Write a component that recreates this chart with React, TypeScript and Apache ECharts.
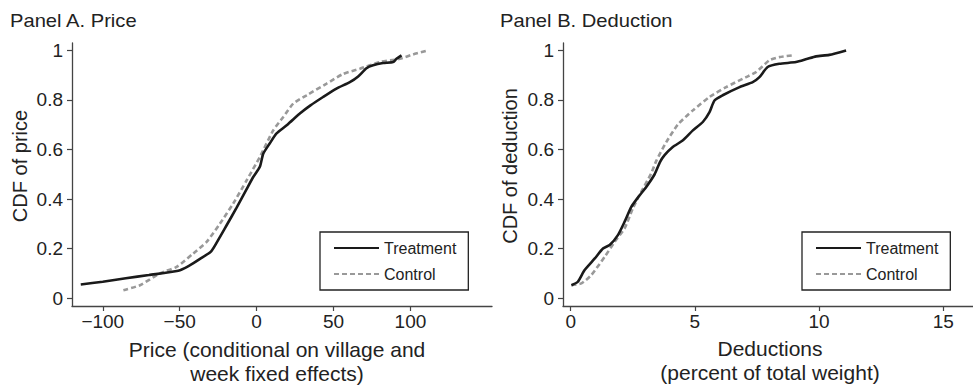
import React, { useEffect, useRef } from "react";
import * as echarts from "echarts";

// Panel A: price (conditional on village and week fixed effects) vs CDF
const priceTreatment: [number, number][] = [
  [-114.3, 0.055], [-100, 0.066], [-85, 0.08], [-70, 0.093], [-50.9, 0.11],
  [-44, 0.13], [-36.8, 0.158], [-29.4, 0.19], [-24, 0.245], [-19.5, 0.294],
  [-13, 0.365], [-6.5, 0.44], [-2.2, 0.489], [2.1, 0.53], [4.3, 0.583],
  [8.6, 0.625], [12.8, 0.664], [20, 0.7], [28.1, 0.745], [35, 0.778],
  [43.2, 0.812], [51.9, 0.846], [60.6, 0.872], [66, 0.895], [71.4, 0.928],
  [75.7, 0.94], [82.2, 0.949], [88.7, 0.953], [90.9, 0.966], [94.2, 0.98],
];
const priceControl: [number, number][] = [
  [-86.6, 0.032], [-75.8, 0.052], [-62.8, 0.1], [-52, 0.126], [-41.2, 0.18],
  [-32.5, 0.227], [-23.8, 0.301], [-15.2, 0.382], [-6.5, 0.475], [2.1, 0.57],
  [10.8, 0.677], [17.3, 0.731], [23.8, 0.785], [32.5, 0.819], [45.5, 0.866],
  [56.2, 0.905], [67.1, 0.926], [80, 0.953], [93, 0.966], [101.7, 0.984],
  [111.4, 1.0],
];

// Panel B: deductions (percent of total weight) vs CDF
const deductionTreatment: [number, number][] = [
  [0.03, 0.052], [0.29, 0.066], [0.56, 0.113], [0.97, 0.16], [1.3, 0.2],
  [1.57, 0.214], [1.9, 0.254], [2.17, 0.308], [2.44, 0.368], [2.7, 0.405],
  [3.05, 0.45], [3.38, 0.5], [3.6, 0.55], [3.78, 0.577], [4.11, 0.61],
  [4.52, 0.637], [4.92, 0.677], [5.32, 0.711], [5.59, 0.751], [5.79, 0.798],
  [6.12, 0.819], [6.8, 0.852], [7.33, 0.872], [7.6, 0.892], [7.93, 0.933],
  [8.4, 0.946], [9.07, 0.953], [9.5, 0.965], [9.88, 0.976], [10.41, 0.982],
  [11.09, 1.0],
];
const deductionControl: [number, number][] = [
  [0.03, 0.052], [0.43, 0.059], [0.83, 0.093], [1.37, 0.167], [1.77, 0.227],
  [2.17, 0.281], [2.5, 0.362], [2.84, 0.429], [3.24, 0.503], [3.45, 0.555],
  [3.85, 0.63], [4.31, 0.7], [4.92, 0.758], [5.59, 0.812], [6.26, 0.852],
  [7.06, 0.892], [7.47, 0.913], [8.0, 0.96], [8.4, 0.973], [8.94, 0.98],
];

const yTicks = [0, 0.2, 0.4, 0.6, 0.8, 1];
const priceTicks = [-100, -50, 0, 50, 100];
const deductionTicks = [0, 5, 10, 15];
const seriesNames = ["Treatment", "Control"];

const FONT = "'Liberation Sans', Arial, Helvetica, sans-serif";
const AXIS_COLOR = "#444";
const TEXT_COLOR = "#222";

function yAxisCfg(gridIndex: number) {
  return {
    type: "value",
    gridIndex,
    min: -0.032,
    max: 1.03,
    splitLine: { show: false },
    axisLine: { show: true, onZero: false, lineStyle: { color: AXIS_COLOR, width: 1.3 } },
    axisTick: { show: true, length: 5, customValues: yTicks, lineStyle: { color: AXIS_COLOR, width: 1.2 } },
    axisLabel: {
      customValues: yTicks,
      fontSize: 19,
      color: TEXT_COLOR,
      margin: 9,
      fontFamily: FONT,
      formatter: (v: number) => String(+v.toFixed(2)),
    },
  };
}

function xAxisCfg(gridIndex: number, min: number, max: number, ticks: number[]) {
  return {
    type: "value",
    gridIndex,
    min,
    max,
    splitLine: { show: false },
    axisLine: { show: true, onZero: false, lineStyle: { color: AXIS_COLOR, width: 1.3 } },
    axisTick: { show: true, length: 5, customValues: ticks, lineStyle: { color: AXIS_COLOR, width: 1.2 } },
    axisLabel: {
      customValues: ticks,
      fontSize: 19,
      color: TEXT_COLOR,
      margin: 6,
      fontFamily: FONT,
      formatter: (v: number) => String(v).replace("-", "\u2212"),
    },
  };
}

function lineSeries(name: string, data: [number, number][], idx: number, treatment: boolean) {
  return {
    type: "line",
    name,
    xAxisIndex: idx,
    yAxisIndex: idx,
    data,
    symbol: "none",
    showSymbol: false,
    smooth: 0.2,
    lineStyle: treatment
      ? { color: "#1a1a1a", width: 2.6, type: "solid" }
      : { color: "#999999", width: 2.6, type: [5, 3] },
    itemStyle: { color: treatment ? "#1a1a1a" : "#999999" },
    z: treatment ? 3 : 2,
  };
}

function legendCfg(left: number) {
  return {
    data: seriesNames,
    orient: "vertical",
    left,
    top: 232,
    borderColor: "#222",
    borderWidth: 1.3,
    padding: [8, 12, 8, 13],
    itemGap: 10,
    itemWidth: 45,
    itemHeight: 14,
    itemStyle: { opacity: 0 },
    textStyle: { fontSize: 16, color: TEXT_COLOR, fontFamily: FONT },
  };
}

export default function App() {
  const ref = useRef<HTMLDivElement>(null);

  useEffect(() => {
    if (!ref.current) return;
    const chart = echarts.init(ref.current, undefined, { renderer: "svg" });
    const option: any = {
      animation: false,
      backgroundColor: "#ffffff",
      textStyle: { fontFamily: FONT },
      grid: [
        { left: 72, top: 43, width: 420, height: 263 },
        { left: 563, top: 43, width: 410, height: 263 },
      ],
      xAxis: [
        xAxisCfg(0, -120, 153, priceTicks),
        xAxisCfg(1, -0.31, 16.2, deductionTicks),
      ],
      yAxis: [yAxisCfg(0), yAxisCfg(1)],
      legend: [legendCfg(320), legendCfg(802)],
      series: [
        lineSeries("Control", priceControl, 0, false),
        lineSeries("Treatment", priceTreatment, 0, true),
        lineSeries("Control", deductionControl, 1, false),
        lineSeries("Treatment", deductionTreatment, 1, true),
      ],
      graphic: [
        {
          type: "text", x: 10, y: 21, scaleX: 1.12,
          style: {
            text: "Panel A. Price", fontSize: 18, fill: TEXT_COLOR, fontFamily: FONT,
            verticalAlign: "middle",
          },
        },
        {
          type: "text", x: 500, y: 21, scaleX: 1.12,
          style: {
            text: "Panel B. Deduction", fontSize: 18, fill: TEXT_COLOR, fontFamily: FONT,
            verticalAlign: "middle",
          },
        },
        {
          type: "text", x: 20, y: 166, rotation: Math.PI / 2,
          style: {
            text: "CDF of price", fontSize: 20, fill: TEXT_COLOR, fontFamily: FONT,
            align: "center", verticalAlign: "middle",
          },
        },
        {
          type: "text", x: 510, y: 166, rotation: Math.PI / 2,
          style: {
            text: "CDF of deduction", fontSize: 20, fill: TEXT_COLOR, fontFamily: FONT,
            align: "center", verticalAlign: "middle",
          },
        },
        {
          type: "text", x: 277, y: 361,
          style: {
            text: "Price (conditional on village and\nweek fixed effects)", fontSize: 21,
            lineHeight: 24, fill: TEXT_COLOR, fontFamily: FONT,
            align: "center", verticalAlign: "middle",
          },
        },
        {
          type: "text", x: 770, y: 360,
          style: {
            text: "Deductions\n(percent of total weight)", fontSize: 21,
            lineHeight: 24, fill: TEXT_COLOR, fontFamily: FONT,
            align: "center", verticalAlign: "middle",
          },
        },
      ],
    };
    chart.setOption(option);
    return () => chart.dispose();
  }, []);

  return (
    <div
      ref={ref}
      style={{ position: "fixed", left: 0, top: 0, width: 973, height: 385, background: "#fff" }}
    />
  );
}
